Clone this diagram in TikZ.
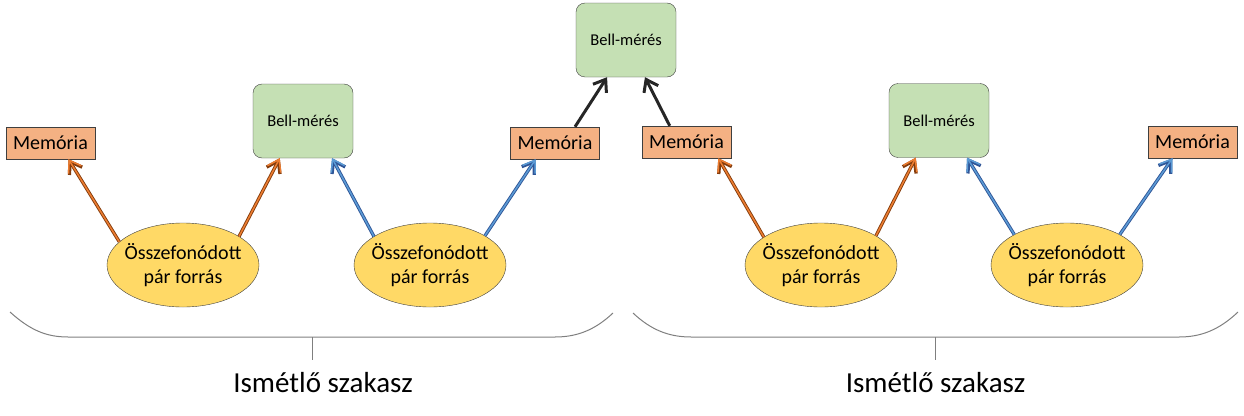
\documentclass[tikz,border=0pt]{standalone}
\usepackage{fontspec}
\setmainfont{Carlito}
\usetikzlibrary{arrows.meta,shapes.geometric}
\definecolor{memfill}{HTML}{F4B183}
\definecolor{bellfill}{HTML}{C5E0B4}
\definecolor{srcfill}{HTML}{FFD966}
\definecolor{boxline}{HTML}{3F3F3F}
\definecolor{orangein}{HTML}{ED7D31}
\definecolor{orangeout}{HTML}{843C0C}
\definecolor{bluein}{HTML}{5B9BD5}
\definecolor{blueout}{HTML}{2F5597}
\definecolor{bellarrow}{HTML}{262626}
\definecolor{braceline}{HTML}{7F7F7F}
\tikzset{
    memory/.style={draw=boxline, fill=memfill, minimum width=89pt, minimum height=32pt, inner sep=0pt, font=\fontsize{20}{24}\selectfont},
    bell/.style={draw=boxline, fill=bellfill, rounded corners=9pt, minimum width=100pt, minimum height=74pt, inner sep=0pt, font=\fontsize{16.5}{20}\selectfont},
    source/.style={ellipse, draw=boxline, fill=srcfill, minimum width=152pt, minimum height=84pt, inner xsep=-10pt, inner ysep=0pt, align=center, font=\fontsize{20}{24}\selectfont},
    orangearrow/.style={draw=orangein, line width=1.5pt, -{Straight Barb[length=11pt,width=15pt]},
        preaction={draw=orangeout, line width=3.3pt, -{Straight Barb[length=11pt,width=15pt]}}},
    bluearrow/.style={draw=bluein, line width=1.5pt, -{Straight Barb[length=11pt,width=15pt]},
        preaction={draw=blueout, line width=3.3pt, -{Straight Barb[length=11pt,width=15pt]}}},
    bellline/.style={draw=bellarrow, line width=3pt, -{Straight Barb[length=11pt,width=16pt]}},
    bracepath/.style={draw=braceline, line width=1pt},
    sectionlabel/.style={anchor=base, font=\fontsize{29}{34}\selectfont}
}
\begin{document}
\begin{tikzpicture}[x=1pt,y=-1pt]
    \useasboundingbox (0,0) rectangle (1244,415);
    \node[bell] (bell0) at (626,40) {Bell-mérés};
    \node[memory] (mem1) at (50.5,143) {Memória};
    \node[bell] (bell1) at (303,121) {Bell-mérés};
    \node[memory] (mem2) at (555,143) {Memória};
    \node[memory] (mem3) at (686.5,142) {Memória};
    \node[bell] (bell2) at (939,120.5) {Bell-mérés};
    \node[memory] (mem4) at (1192.5,142) {Memória};
    \node[source] (src1) at (183,265) {Összefonódott\\pár forrás};
    \node[source] (src2) at (430,265) {Összefonódott\\pár forrás};
    \node[source] (src3) at (821,265) {Összefonódott\\pár forrás};
    \node[source] (src4) at (1067,265) {Összefonódott\\pár forrás};
    \draw[orangearrow] (src1.160) -- (mem1.-42);
    \draw[orangearrow] (src1.27) -- (bell1.-122);
    \draw[bluearrow] (src2.153) -- (bell1.-52);
    \draw[bluearrow] (src2.28) -- (mem2.-140);
    \draw[bellline] (mem2.39) -- (bell0.-117);
    \draw[bellline] (mem3.136) -- (bell0.-63);
    \draw[orangearrow] (src3.154) -- (mem3.-27);
    \draw[orangearrow] (src3.28) -- (bell2.-122);
    \draw[bluearrow] (src4.150) -- (bell2.-53);
    \draw[bluearrow] (src4.30) -- (mem4.-141);
    \draw[bracepath] (10,312) .. controls (30,330) and (46,337) .. (68,337) -- (555,337) .. controls (577,337) and (595,330) .. (613,313);
    \draw[bracepath] (312,337) -- (312,360);
    \node[sectionlabel] (label1) at (323,392) {Ismétlő szakasz};
    \draw[bracepath] (633,313) .. controls (651,330) and (669,337) .. (691,337) -- (1179,337) .. controls (1201,337) and (1219,330) .. (1238,312);
    \draw[bracepath] (935,337) -- (935,360);
    \node[sectionlabel] (label2) at (935.5,392) {Ismétlő szakasz};
\end{tikzpicture}
\end{document}
